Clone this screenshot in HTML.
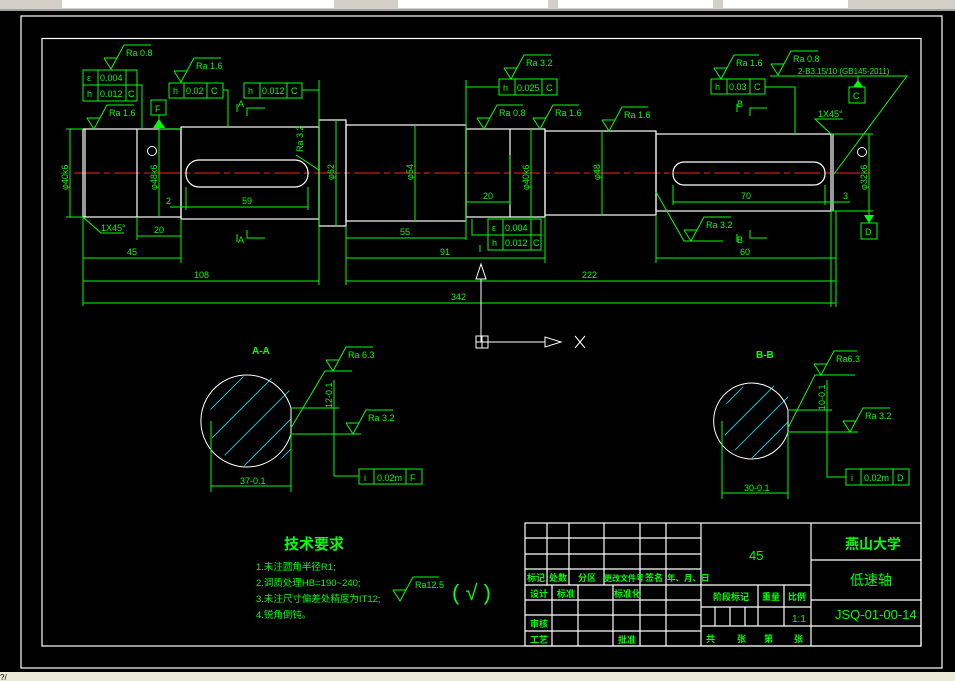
<!DOCTYPE html>
<html><head><meta charset="utf-8"><style>
html,body{margin:0;padding:0;background:#000;width:955px;height:681px;overflow:hidden}
svg{display:block}
text{font-family:"Liberation Sans","Noto Sans CJK SC",sans-serif;fill:#00ff00}
.g{stroke:#00ff00;stroke-width:1;fill:none}
.w{stroke:#fff;stroke-width:1.2;fill:none}
.t{font-size:9px}
.c{font-size:10px;font-weight:bold}
</style></head><body>
<svg width="955" height="681" viewBox="0 0 955 681" xmlns="http://www.w3.org/2000/svg">
<rect x="0" y="0" width="955" height="681" fill="#000"/>
<rect x="0" y="0" width="955" height="11" fill="#d4d0c8"/>
<rect x="0" y="9" width="955" height="2" fill="#a0a0a0"/>
<rect x="62" y="0" width="272" height="8" fill="#fff"/>
<rect x="398" y="0" width="150" height="8" fill="#fff"/>
<rect x="558" y="0" width="155" height="8" fill="#fff"/>
<rect x="723" y="0" width="125" height="8" fill="#fff"/>
<rect x="0" y="672" width="955" height="9" fill="#ece9d8"/>
<text x="0" y="680" style="font-size:8px;fill:#000">?/</text>
<rect x="21" y="16" width="921" height="652" fill="none" stroke="#fff" stroke-width="1.2"/>
<rect x="42" y="38.5" width="879" height="607.5" fill="none" stroke="#fff" stroke-width="1.2"/>

<line x1="74" y1="173" x2="872" y2="173" stroke="#ff2020" stroke-width="1" stroke-dasharray="26,4,6,4"/>

<g class="w">
<rect x="83" y="129" width="98" height="88"/>
<line x1="85" y1="129" x2="85" y2="217"/>
<line x1="137" y1="129" x2="137" y2="217"/>
<rect x="181" y="127" width="138" height="92"/>
<rect x="319" y="120" width="27" height="106"/>
<rect x="346" y="125" width="120" height="96"/>
<rect x="466" y="129" width="79" height="88"/>
<line x1="510" y1="129" x2="510" y2="217"/>
<rect x="545" y="131" width="111" height="84"/>
<rect x="656" y="134" width="175" height="77"/>
<line x1="833" y1="134" x2="833" y2="211"/>
<rect x="186" y="160" width="122" height="27" rx="13"/>
<rect x="673" y="162" width="152" height="23" rx="11"/>
</g>

<g class="g">
<line x1="83" y1="217" x2="83" y2="306"/>
<line x1="181" y1="219" x2="181" y2="263"/>
<line x1="137" y1="217" x2="137" y2="240"/>
<line x1="319" y1="80" x2="319" y2="285"/>
<line x1="346" y1="226" x2="346" y2="285"/>
<line x1="466" y1="80" x2="466" y2="240"/>
<line x1="545" y1="217" x2="545" y2="263"/>
<line x1="656" y1="215" x2="656" y2="263"/>
<line x1="831" y1="211" x2="831" y2="307"/>
<line x1="510" y1="155" x2="510" y2="205"/>
<line x1="836" y1="211" x2="836" y2="307"/>
<line x1="83" y1="258" x2="181" y2="258"/>
<line x1="83" y1="281" x2="319" y2="281"/>
<line x1="83" y1="303" x2="836" y2="303"/>
<line x1="346" y1="258" x2="545" y2="258"/>
<line x1="656" y1="258" x2="836" y2="258"/>
<line x1="346" y1="281" x2="836" y2="281"/>
<line x1="346" y1="238" x2="466" y2="238"/>
<line x1="170" y1="207" x2="308" y2="207"/>
<line x1="137" y1="236" x2="181" y2="236"/>
<line x1="466" y1="202" x2="510" y2="202"/>
<line x1="673" y1="202" x2="850" y2="202"/>
<line x1="186" y1="187" x2="186" y2="210"/>
<line x1="308" y1="187" x2="308" y2="210"/>
<line x1="673" y1="185" x2="673" y2="205"/>
<line x1="825" y1="185" x2="825" y2="205"/>
<line x1="70" y1="129" x2="70" y2="217"/><line x1="66" y1="129" x2="83" y2="129"/><line x1="66" y1="217" x2="83" y2="217"/>
<line x1="159" y1="129" x2="159" y2="217"/>
<line x1="336" y1="120" x2="336" y2="226"/>
<line x1="415" y1="125" x2="415" y2="221"/>
<line x1="531" y1="129" x2="531" y2="217"/>
<line x1="602" y1="131" x2="602" y2="215"/>
<line x1="869" y1="134" x2="869" y2="215"/><line x1="831" y1="134" x2="873" y2="134"/><line x1="831" y1="211" x2="873" y2="211"/>
<polyline points="83,217 101,233 124,233"/>
<polyline points="831,134 815,119 843,119"/>
<polyline points="137,85 142,85 142,129"/>
<polyline points="223,90 228,90 228,127"/>
<polyline points="302,90 319,90"/>
<polyline points="466,87 499,87"/>
<polyline points="765,87 795,87 795,134"/>
<polyline points="488,235 472,235 472,219"/>
<line x1="480" y1="245" x2="480" y2="252"/>
<polyline points="770,76 907,76 834,174"/>
<line x1="858" y1="76" x2="858" y2="87"/>
<line x1="869" y1="215" x2="869" y2="223"/>
<polyline points="656,192 684,241 723,241"/>
<line x1="159" y1="115" x2="159" y2="129"/>
<line x1="159" y1="129" x2="181" y2="129"/>
<line x1="237" y1="104" x2="237" y2="112"/><polyline points="247,116 247,108 265,108"/>
<line x1="237" y1="234" x2="237" y2="242"/><polyline points="247,230 247,238 265,238"/>
<line x1="737" y1="104" x2="737" y2="112"/><polyline points="750,116 750,108 767,108"/>
<line x1="737" y1="234" x2="737" y2="242"/><polyline points="750,230 750,238 767,238"/>
<polyline points="296,155 319,170"/>
</g>
<polygon points="153,128 165,128 159,119" fill="#00ff00"/>
<polygon points="864,215 874,215 869,223" fill="#00ff00"/>
<polygon points="853,87 863,87 858,80" fill="#00ff00"/>

<g class="g">
<rect x="83" y="70" width="54" height="31"/><line x1="83" y1="85" x2="137" y2="85"/><line x1="98" y1="70" x2="98" y2="101"/><line x1="126" y1="70" x2="126" y2="101"/>
<rect x="151" y="100" width="15" height="15"/>
<rect x="169" y="83" width="54" height="15"/><line x1="184" y1="83" x2="184" y2="98"/><line x1="207" y1="83" x2="207" y2="98"/>
<rect x="244" y="83" width="58" height="15"/><line x1="260" y1="83" x2="260" y2="98"/><line x1="287" y1="83" x2="287" y2="98"/>
<rect x="499" y="79" width="58" height="16"/><line x1="515" y1="79" x2="515" y2="95"/><line x1="542" y1="79" x2="542" y2="95"/>
<rect x="488" y="219" width="53" height="31"/><line x1="488" y1="235" x2="541" y2="235"/><line x1="503" y1="219" x2="503" y2="250"/><line x1="531" y1="219" x2="531" y2="250"/>
<rect x="711" y="79" width="54" height="15"/><line x1="727" y1="79" x2="727" y2="94"/><line x1="750" y1="79" x2="750" y2="94"/>
<rect x="849" y="87" width="16" height="16"/>
<rect x="861" y="223" width="16" height="16"/>
</g>
<g class="t">
<text x="87" y="81">ε</text><text x="100" y="81">0.004</text>
<text x="87" y="97">h</text><text x="100" y="97">0.012</text><text x="128" y="97">C</text>
<text x="155" y="112">F</text>
<text x="173" y="94">h</text><text x="186" y="94">0.02</text><text x="211" y="94">C</text>
<text x="248" y="94">h</text><text x="262" y="94">0.012</text><text x="291" y="94">C</text>
<text x="503" y="91">h</text><text x="517" y="91">0.025</text><text x="546" y="91">C</text>
<text x="492" y="231">ε</text><text x="505" y="231">0.004</text>
<text x="492" y="246">h</text><text x="505" y="246">0.012</text><text x="533" y="246">C</text>
<text x="715" y="90">h</text><text x="729" y="90">0.03</text><text x="754" y="90">C</text>
<text x="853" y="99">C</text>
<text x="865" y="235">D</text>
</g>

<g class="g">
<polyline points="104,58 111,69 124,45 151,45"/><line x1="104" y1="58" x2="117" y2="58"/>
<polyline points="87,118 94,129 107,105 134,105"/><line x1="87" y1="118" x2="100" y2="118"/>
<polyline points="174,71 181,82 194,58 221,58"/><line x1="174" y1="71" x2="187" y2="71"/>
<polyline points="504,68 511,79 524,55 551,55"/><line x1="504" y1="68" x2="517" y2="68"/>
<polyline points="477,118 484,129 497,105 523,105"/><line x1="477" y1="118" x2="490" y2="118"/>
<polyline points="533,118 540,129 553,105 579,105"/><line x1="533" y1="118" x2="546" y2="118"/>
<polyline points="602,120 609,131 622,107 648,107"/><line x1="602" y1="120" x2="615" y2="120"/>
<polyline points="714,68 721,79 734,55 759,55"/><line x1="714" y1="68" x2="727" y2="68"/>
<polyline points="771,64 778,75 791,51 818,51"/><line x1="771" y1="64" x2="784" y2="64"/>
<polyline points="684,230 691,241 704,217 731,217"/><line x1="684" y1="230" x2="697" y2="230"/>
<polyline points="326,360 333,371 346,347 373,347"/><line x1="326" y1="360" x2="339" y2="360"/>
<polyline points="346,423 353,434 366,410 393,410"/><line x1="346" y1="423" x2="359" y2="423"/>
<polyline points="814,364 821,375 834,351 857,351"/><line x1="814" y1="364" x2="827" y2="364"/>
<polyline points="843,421 850,432 863,408 890,408"/><line x1="843" y1="421" x2="856" y2="421"/>
<polyline points="393,590 400,601 413,577 439,577"/><line x1="393" y1="590" x2="406" y2="590"/>
</g>
<g class="t">
<text x="126" y="56">Ra 0.8</text><text x="109" y="116">Ra 1.6</text><text x="196" y="69">Ra 1.6</text>
<text x="526" y="66">Ra 3.2</text><text x="499" y="116">Ra 0.8</text><text x="555" y="116">Ra 1.6</text>
<text x="624" y="118">Ra 1.6</text><text x="736" y="66">Ra 1.6</text><text x="793" y="62">Ra 0.8</text>
<text x="798" y="74" style="font-size:8px">2-B3.15/10 (GB145-2011)</text>
<text x="706" y="228">Ra 3.2</text><text x="348" y="358">Ra 6.3</text><text x="368" y="421">Ra 3.2</text>
<text x="836" y="362">Ra6.3</text><text x="865" y="419">Ra 3.2</text>
<text x="415" y="588">Ra12.5</text>
<text x="127" y="255">45</text><text x="194" y="278">108</text><text x="451" y="300">342</text>
<text x="440" y="255">91</text><text x="740" y="255">60</text><text x="582" y="278">222</text>
<text x="400" y="235">55</text><text x="242" y="204">59</text><text x="166" y="204">2</text>
<text x="154" y="233">20</text><text x="483" y="199">20</text><text x="741" y="199">70</text><text x="843" y="199">3</text>
<text x="101" y="231">1X45°</text><text x="818" y="117">1X45°</text>
<text x="238" y="107">A</text><text x="238" y="243">A</text><text x="737" y="107">B</text><text x="737" y="243">B</text>
<text transform="translate(68,190) rotate(-90)">φ40k6</text>
<text transform="translate(157,190) rotate(-90)">φ48k6</text>
<text transform="translate(334,180) rotate(-90)">φ62</text>
<text transform="translate(413,180) rotate(-90)">φ54</text>
<text transform="translate(529,190) rotate(-90)">φ40k6</text>
<text transform="translate(600,180) rotate(-90)">φ48</text>
<text transform="translate(867,190) rotate(-90)">φ32k6</text>
<text transform="translate(303,152) rotate(-90)">Ra 3.2</text>
</g>
<circle cx="152" cy="151" r="4.5" fill="none" stroke="#fff"/>
<circle cx="862" cy="152" r="4.5" fill="none" stroke="#fff"/>

<g stroke="#fff" stroke-width="1" fill="none">
<line x1="481" y1="279" x2="481" y2="342"/>
<polygon points="476,279 486,279 481,264"/>
<line x1="481" y1="342" x2="545" y2="342"/>
<polygon points="545,337 545,347 561,342"/>
<rect x="476" y="336" width="12" height="12"/>
<line x1="482" y1="336" x2="482" y2="348"/><line x1="476" y1="342" x2="488" y2="342"/>
<line x1="575" y1="336" x2="585" y2="348"/><line x1="585" y1="336" x2="575" y2="348"/>
</g>

<defs>
<clipPath id="ca"><circle cx="255" cy="421" r="46"/></clipPath>
<clipPath id="cb"><circle cx="760" cy="421" r="38"/></clipPath>
</defs>
<g clip-path="url(#ca)">
<g stroke="#00e0ff" stroke-width="0.8">
<line x1="180" y1="440" x2="260" y2="360"/><line x1="180" y1="470" x2="280" y2="370"/><line x1="200" y1="480" x2="300" y2="380"/><line x1="220" y1="490" x2="310" y2="400"/><line x1="240" y1="500" x2="310" y2="430"/>
</g>
<rect x="291" y="370" width="20" height="100" fill="#000"/>
</g>
<path d="M291,408 L291,434" stroke="#fff" fill="none"/>
<path d="M291,408 A46,46 0 1 0 291,434" stroke="#fff" fill="none"/>
<g clip-path="url(#cb)">
<g stroke="#00e0ff" stroke-width="0.8">
<line x1="700" y1="430" x2="770" y2="360"/><line x1="710" y1="450" x2="790" y2="370"/><line x1="725" y1="460" x2="800" y2="385"/><line x1="740" y1="470" x2="805" y2="405"/>
</g>
<rect x="788" y="380" width="20" height="90" fill="#000"/>
</g>
<path d="M788,410 L788,432" stroke="#fff" fill="none"/>
<path d="M788,410 A38,38 0 1 0 788,432" stroke="#fff" fill="none"/>
<g class="g">
<line x1="211" y1="421" x2="211" y2="492"/><line x1="291" y1="434" x2="291" y2="492"/><line x1="211" y1="486" x2="291" y2="486"/>
<line x1="291" y1="408" x2="339" y2="408"/><line x1="291" y1="434" x2="361" y2="434"/>
<polyline points="291,428 325,371 352,371"/>
<polyline points="334,380 334,476 359,476"/>
<rect x="359" y="469" width="63" height="15"/><line x1="374" y1="469" x2="374" y2="484"/><line x1="406" y1="469" x2="406" y2="484"/>
<line x1="722" y1="421" x2="722" y2="499"/><line x1="788" y1="432" x2="788" y2="499"/><line x1="722" y1="493" x2="788" y2="493"/>
<line x1="788" y1="410" x2="832" y2="410"/><line x1="788" y1="432" x2="858" y2="432"/>
<polyline points="788,428 815,375 855,375"/>
<polyline points="827,380 827,477 846,477"/>
<rect x="846" y="469" width="63" height="16"/><line x1="861" y1="469" x2="861" y2="485"/><line x1="893" y1="469" x2="893" y2="485"/>
</g>
<g class="t">
<text x="252" y="354" class="c">A-A</text><text x="756" y="358" class="c">B-B</text>
<text x="240" y="484">37-0.1</text><text x="744" y="491">30-0.1</text>
<text transform="translate(332,408) rotate(-90)">12-0.1</text>
<text transform="translate(825,410) rotate(-90)">10-0.1</text>
<text x="364" y="481">i</text><text x="377" y="481">0.02m</text><text x="410" y="481">F</text>
<text x="851" y="481">i</text><text x="864" y="481">0.02m</text><text x="897" y="481">D</text>
</g>

<text x="284" y="549" style="font-size:15px;font-weight:bold">技术要求</text>
<g style="font-size:9.5px">
<text x="256" y="570">1.未注圆角半径R1;</text>
<text x="256" y="586">2.调质处理HB=190~240;</text>
<text x="256" y="602">3.未注尺寸偏差处精度为IT12;</text>
<text x="256" y="618">4.锐角倒钝。</text>
</g>
<text x="452" y="600" style="font-size:22px">( √ )</text>

<g stroke="#fff" stroke-width="1.2" fill="none">
<rect x="525" y="523" width="396" height="123"/>
<line x1="525" y1="538" x2="701" y2="538"/><line x1="525" y1="554" x2="701" y2="554"/><line x1="525" y1="569" x2="701" y2="569"/>
<line x1="525" y1="585" x2="811" y2="585"/><line x1="525" y1="600" x2="701" y2="600"/><line x1="525" y1="615" x2="701" y2="615"/><line x1="525" y1="631" x2="701" y2="631"/>
<line x1="547" y1="523" x2="547" y2="585"/><line x1="569" y1="523" x2="569" y2="585"/><line x1="604" y1="523" x2="604" y2="585"/>
<line x1="640" y1="523" x2="640" y2="646"/><line x1="666" y1="523" x2="666" y2="646"/>
<line x1="552" y1="585" x2="552" y2="646"/><line x1="578" y1="585" x2="578" y2="646"/><line x1="613" y1="585" x2="613" y2="646"/>
<line x1="701" y1="523" x2="701" y2="646"/><line x1="811" y1="523" x2="811" y2="646"/>
<line x1="701" y1="607" x2="811" y2="607"/><line x1="701" y1="626" x2="811" y2="626"/>
<line x1="758" y1="585" x2="758" y2="626"/><line x1="784" y1="585" x2="784" y2="626"/>
<line x1="715" y1="607" x2="715" y2="626"/><line x1="730" y1="607" x2="730" y2="626"/><line x1="745" y1="607" x2="745" y2="626"/>
<line x1="811" y1="560" x2="921" y2="560"/><line x1="811" y1="600" x2="921" y2="600"/><line x1="811" y1="626" x2="921" y2="626"/>
</g>
<g style="font-size:9px;font-weight:bold">
<text x="527" y="581">标记</text><text x="549" y="581">处数</text><text x="578" y="581">分区</text><text x="604" y="581" style="font-size:8px">更改文件号</text><text x="645" y="581">签名</text><text x="667" y="581" style="font-size:8.5px">年、月、日</text>
<text x="530" y="597">设计</text><text x="557" y="597">标准</text><text x="614" y="597">标准化</text>
<text x="713" y="600">阶段标记</text><text x="762" y="600">重量</text><text x="788" y="600">比例</text>
<text x="530" y="627">审核</text><text x="530" y="643">工艺</text><text x="618" y="643">批准</text>
<text x="706" y="642">共</text><text x="737" y="642">张</text><text x="764" y="642">第</text><text x="794" y="642">张</text>
</g>
<text x="792" y="622" style="font-size:10px">1:1</text>
<text x="749" y="560" style="font-size:13px">45</text>
<text x="845" y="549" style="font-size:14px;font-weight:bold">燕山大学</text>
<text x="850" y="585" style="font-size:14px">低速轴</text>
<text x="835" y="619" style="font-size:13px">JSQ-01-00-14</text>
</svg>
</body></html>
